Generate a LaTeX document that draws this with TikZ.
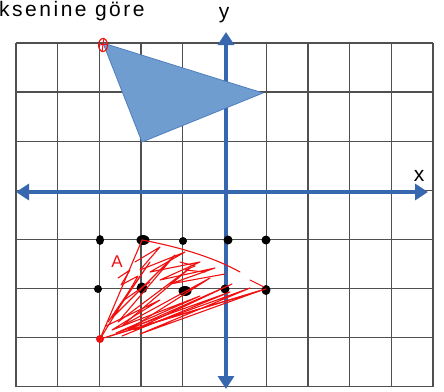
\documentclass[tikz,border=0pt]{standalone}
\usepackage{fontspec}
\setmainfont{Liberation Sans}
\usetikzlibrary{arrows.meta}
\definecolor{axisblue}{HTML}{3767AE}
\definecolor{trifill}{HTML}{6F9DD0}
\definecolor{triline}{HTML}{4F7FBF}
\definecolor{gridgray}{HTML}{505050}
\definecolor{pen}{HTML}{F01010}
\tikzset{
  gridline/.style={draw=gridgray,line width=1.3pt},
  axisline/.style={draw=axisblue,line width=4pt,{Triangle[length=13pt,width=16pt]}-{Triangle[length=13pt,width=16pt]}},
  scrib/.style={draw=pen,line width=1.1pt,line join=round,line cap=round},
  lbl/.style={font=\fontsize{21}{24}\selectfont,inner sep=0pt}
}
\begin{document}
\begin{tikzpicture}[x=1pt,y=-1pt]
\useasboundingbox (0,0) rectangle (444,391);
% grid
\foreach \i in {0,...,10} \draw[gridline] ({16+41.7*\i},43) -- ({16+41.7*\i},387);
\foreach \j in {0,...,7} \draw[gridline] (16,{43+49.1*\j}) -- (433,{43+49.1*\j});
% axes
\draw[axisline] (16,192) -- (428,192);
\draw[axisline] (226,32) -- (226,389);
\node[lbl] (ylab) at (224,15) {y};
\node[lbl] (xlab) at (419,176) {x};
\node[lbl,anchor=base west] (title) at (-1,16) {\addfontfeatures{LetterSpace=12}ksenine göre};
% blue triangle
\coordinate (P) at (103,43);
\coordinate (Q) at (263,93);
\coordinate (R) at (142,142);
\draw[fill=trifill,draw=triline,line width=0.8pt] (P) -- (Q) -- (R) -- cycle;
% red mark on P
\draw[pen,line width=1.1pt] (103,45) ellipse (4.5pt and 6.5pt);
\draw[pen,line width=1pt] (104,38) -- (102,52) (99,45) -- (108,44);
% black dots
\foreach \n/\x/\y/\a/\b in {d1/100/240/4/5, d2/143/240/6.5/5, d3/183/241/4/4, d4/228/240/4.5/4.5, d5/266/240/4.5/4.5,
  e1/98/289/4/4, e2/142/288/5.5/5.5, e3/185/291/6.5/5, e4/225/289/4.5/4.5, e5/266/290/4.5/5}
  \fill[black] (\x,\y) ellipse ({\a pt} and {\b pt}) coordinate (\n);
% red sketch of image triangle
\coordinate (A1) at (100,339);
\coordinate (A2) at (142,240);
\coordinate (A3) at (266,289);
\fill[pen] (A1) circle (4pt);
\draw[scrib] (A1) -- (A2);
\draw[scrib] (A2) .. controls (180,247) and (215,258) .. (240,272);
\draw[scrib] (A1) -- (A3);
\draw[scrib] (250,280) -- (264,287);
\draw[scrib] (A1) -- (130,290) -- (108,322) -- (150,262) -- (112,318) -- (175,255)
  -- (118,322) -- (190,268) -- (122,326) -- (210,278) -- (128,330) -- (232,284)
  -- (134,330) -- (250,288) -- (140,334) -- (262,290) -- (110,336);
\draw[scrib] (106,326) -- (160,300) -- (112,330) -- (200,296) -- (116,333) -- (230,292) -- (122,336);
\draw[scrib] (135,262) -- (160,247) -- (140,270) -- (185,252) -- (150,272) -- (200,262) -- (160,280) -- (215,268) -- (170,284) -- (225,274);
\draw[scrib] (118,278) -- (130,270) -- (121,285) -- (138,276) -- (124,300) -- (150,282);
\draw[scrib] (180,262) -- (195,266) -- (185,270) -- (205,272);
\node[font=\fontsize{17}{19}\selectfont,text=pen,inner sep=0pt] (Alab) at (117,262) {A};
\end{tikzpicture}
\end{document}
